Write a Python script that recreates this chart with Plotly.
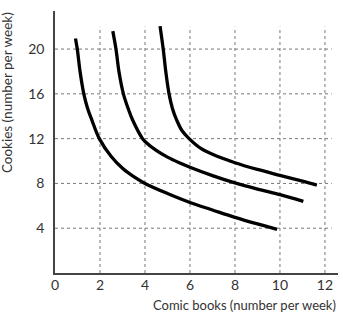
import plotly.graph_objects as go

# Indifference curves (comic books x, cookies y)
curve1_x = [0.91, 0.99, 1.12, 1.28, 1.45, 1.64, 1.97, 2.5, 3.0, 3.5, 4.0, 5.0, 6.0, 7.0, 8.0, 9.0, 9.87]
curve1_y = [20.95, 20.0, 17.9, 16.0, 14.7, 13.66, 12.0, 10.4, 9.35, 8.6, 8.0, 7.1, 6.3, 5.63, 4.97, 4.38, 3.9]

curve2_x = [2.57, 2.71, 2.85, 3.04, 3.25, 3.45, 3.89, 4.0, 4.5, 5.0, 5.5, 6.0, 7.0, 8.0, 9.0, 10.0, 11.04]
curve2_y = [21.6, 20.0, 17.9, 16.0, 14.7, 13.66, 12.0, 11.75, 10.95, 10.35, 9.87, 9.45, 8.7, 8.05, 7.5, 7.0, 6.4]

curve3_x = [4.67, 4.81, 4.93, 5.07, 5.22, 5.41, 5.65, 5.96, 6.5, 7.0, 8.0, 9.0, 10.0, 11.0, 11.64]
curve3_y = [22.05, 20.0, 17.9, 16.0, 14.7, 13.66, 12.7, 12.0, 11.1, 10.6, 9.85, 9.25, 8.72, 8.2, 7.85]

x_ticks = [0, 2, 4, 6, 8, 10, 12]
y_ticks = [4, 8, 12, 16, 20]
x_grid = [2, 4, 6, 8, 10, 12]
y_grid = [4, 8, 12, 16, 20]
grid_x_end = 12.3
grid_y_end = 22.0

fig = go.Figure()
for cx, cy in [(curve1_x, curve1_y), (curve2_x, curve2_y), (curve3_x, curve3_y)]:
    fig.add_trace(go.Scatter(x=cx, y=cy, mode="lines",
                             line=dict(color="black", width=3.3, shape="spline", smoothing=1.0),
                             showlegend=False, hoverinfo="skip"))

shapes = []
for gx in x_grid:
    shapes.append(dict(type="line", xref="x", yref="y", x0=gx, x1=gx, y0=0, y1=grid_y_end,
                       line=dict(color="#777", width=1, dash="dot"), layer="below"))
for gy in y_grid:
    shapes.append(dict(type="line", xref="x", yref="y", x0=0, x1=grid_x_end, y0=gy, y1=gy,
                       line=dict(color="#777", width=1, dash="dot"), layer="below"))

font = dict(family="Lato", size=14, color="#333")

fig.update_layout(
    width=343, height=315,
    margin=dict(l=55, r=5, t=11, b=42),
    paper_bgcolor="white", plot_bgcolor="white",
    shapes=shapes,
    font=font,
    xaxis=dict(range=[0, 12.58], tickvals=x_ticks, ticktext=[str(v) for v in x_ticks],
               showgrid=False, zeroline=False, showline=True, linecolor="#444", linewidth=1.5,
               ticks="", tickfont=font, ticklabelstandoff=-2, fixedrange=True),
    yaxis=dict(range=[0, 23.4], tickvals=y_ticks, ticktext=[str(v) for v in y_ticks],
               showgrid=False, zeroline=False, showline=True, linecolor="#444", linewidth=1.5,
               ticks="", tickfont=font, ticklabelstandoff=6, fixedrange=True),
    annotations=[
        dict(text="Comic books (number per week)", xref="paper", yref="paper",
             x=1.0, y=-0.16, xanchor="right", yanchor="bottom", showarrow=False,
             font=dict(family="Lato", size=13, color="#333")),
        dict(text="Cookies (number per week)", xref="paper", yref="paper",
             x=-0.17, y=0.69, xanchor="center", yanchor="middle", textangle=-90, showarrow=False,
             font=dict(family="Lato", size=13.5, color="#333")),
    ],
)

fig.write_html("out.html")
